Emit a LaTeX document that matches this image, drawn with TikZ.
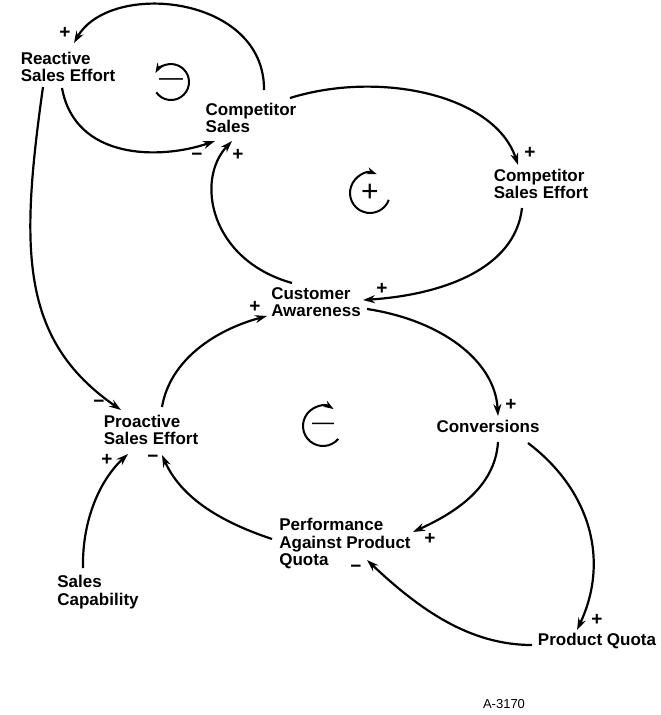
\documentclass[tikz,border=0pt]{standalone}
\usepackage{fontspec}
\setmainfont{Liberation Sans}
\usetikzlibrary{arrows.meta,calc}
\begin{document}
\begin{tikzpicture}[x=1pt,y=-1pt,
  var/.style={align=left,inner sep=0pt,font=\bfseries\fontsize{17}{17.5}\selectfont},
  sgn/.style={inner sep=0pt,font=\bfseries\fontsize{19}{19}\selectfont},
  lnk/.style={line width=2.2pt,-{Stealth[length=12pt,width=8pt]}},
  loopar/.style={line width=2pt,-{Stealth[length=10pt,width=7pt]}}]
\useasboundingbox[fill=white] (0,0) rectangle (661,715);
% variables
\node[var] (rse) at (68,67) {Reactive\\Sales Effort};
\node[var] (cs) at (251,118) {Competitor\\Sales};
\node[var] (cse) at (541,184) {Competitor\\Sales Effort};
\node[var] (ca) at (316,302) {Customer\\Awareness};
\node[var] (pse) at (151,430) {Proactive\\Sales Effort};
\node[var] (conv) at (488,426) {Conversions};
\node[var] (papq) at (345,544) {Performance\\Against Product\\Quota};
\node[var] (sc) at (98,592) {Sales\\Capability};
\node[var] (pq) at (597,641) {Product Quota};
\node[var,font=\fontsize{13}{13}\selectfont] (id) at (504,704) {A-3170};
% links
\draw[lnk] ($(cs)+(13,-28)$) .. controls (265,-5) and (110,-20) .. ($(rse)+(6,-24)$);
\draw[lnk] ($(rse)+(-6,21)$) .. controls (75,160) and (160,160) .. ($(cs)+(-36,23)$);
\draw[lnk] ($(ca)+(-24,-19)$) .. controls (210,260) and (195,180) .. ($(cs)+(-19,23)$);
\draw[lnk] ($(cs)+(39,-20)$) .. controls (380,70) and (495,95) .. ($(cse)+(-23,-19)$);
\draw[lnk] ($(cse)+(-19,24)$) .. controls (515,270) and (440,295) .. ($(ca)+(47,-2)$);
\draw[lnk] ($(rse)+(-25,20)$) .. controls (20,250) and (20,340) .. ($(pse)+(-30,-20)$);
\draw[lnk] ($(pse)+(11,-23)$) .. controls (170,360) and (215,330) .. ($(ca)+(-49,14)$);
\draw[lnk] ($(ca)+(51,7)$) .. controls (440,320) and (495,360) .. ($(conv)+(10,-10)$);
\draw[lnk] ($(conv)+(10,16)$) .. controls (495,490) and (450,515) .. ($(papq)+(68,-12)$);
\draw[lnk] ($(conv)+(40,17)$) .. controls (590,490) and (610,560) .. ($(pq)+(-20,-11)$);
\draw[lnk] ($(pq)+(-65,4)$) .. controls (470,645) and (420,610) .. ($(papq)+(22,16)$);
\draw[lnk] ($(papq)+(-73,-5)$) .. controls (215,520) and (180,495) .. ($(pse)+(11,25)$);
\draw[lnk] ($(sc)+(-15,-24)$) .. controls (82,520) and (100,480) .. ($(pse)+(-23,24)$);
% polarity signs
\node[sgn] (s1) at (65,33) {+};
\node[sgn] (s2) at (197,157) {−};
\node[sgn] (s3) at (238,155) {+};
\node[sgn] (s4) at (530,153) {+};
\node[sgn] (s5) at (382,289) {+};
\node[sgn] (s6) at (99,404) {−};
\node[sgn] (s7) at (255,307) {+};
\node[sgn] (s8) at (511,405) {+};
\node[sgn] (s9) at (430,539) {+};
\node[sgn] (s10) at (597,620) {+};
\node[sgn] (s11) at (356,569) {−};
\node[sgn] (s12) at (153,459) {−};
\node[sgn] (s13) at (107,460) {+};
% loop symbols
\node[inner sep=0pt,font=\fontsize{24}{24}\selectfont] (l1) at (171,82) {—};
\draw[loopar] ($(l1)+(215:18pt)$) arc[start angle=215, end angle=510, radius=18pt];
\node[inner sep=0pt,font=\fontsize{30}{30}\selectfont] (l2) at (370,193) {+};
\draw[loopar] ($(l2)+(-20:20pt)$) arc[start angle=-20, end angle=-290, radius=20pt];
\node[inner sep=0pt,font=\fontsize{22}{22}\selectfont] (l3) at (323,426) {—};
\draw[loopar] ($(l3)+(-40:20pt)$) arc[start angle=-40, end angle=-302, radius=20pt];
\end{tikzpicture}
\end{document}
